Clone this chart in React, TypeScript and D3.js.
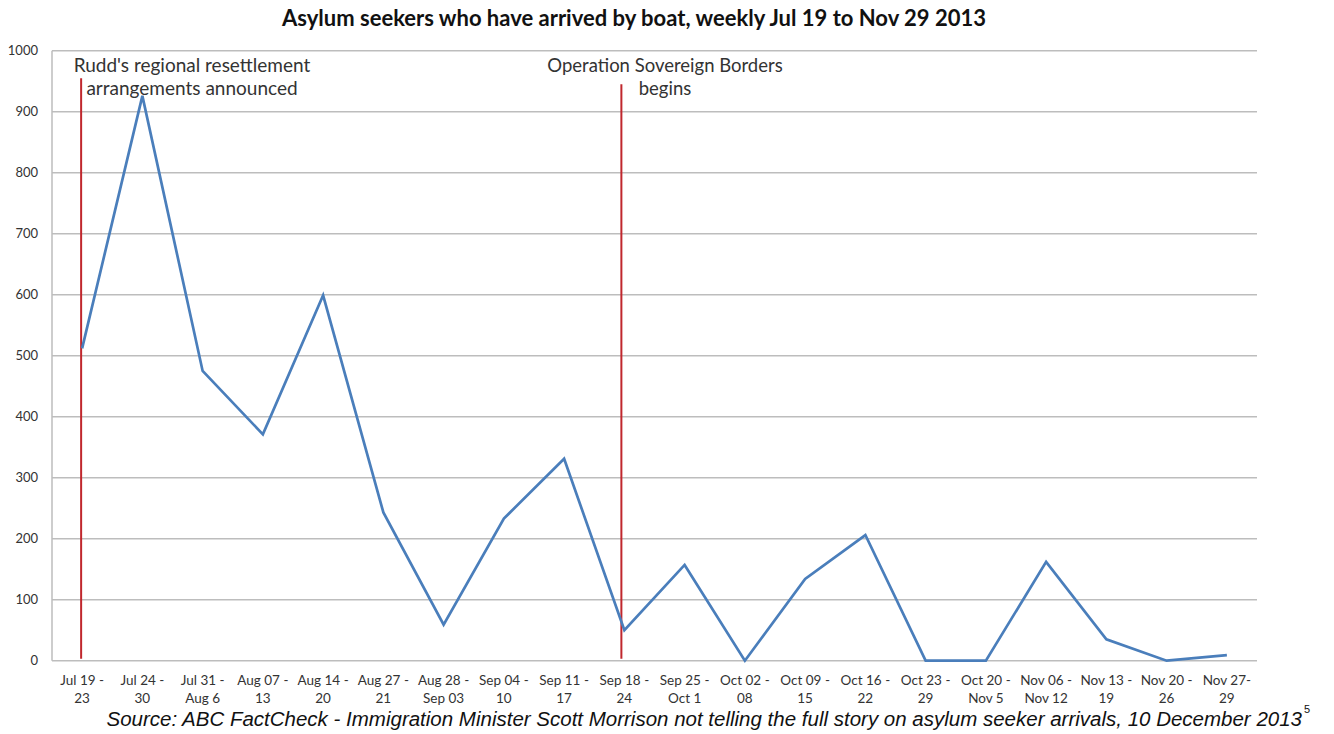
import React from "react";
import * as d3 from "d3";

const catLine1 = ["Jul 19 -", "Jul 24 -", "Jul 31 -", "Aug 07 -", "Aug 14 -", "Aug 27 -", "Aug 28 -", "Sep 04 -", "Sep 11 -", "Sep 18 -", "Sep 25 -", "Oct 02 -", "Oct 09 -", "Oct 16 -", "Oct 23 -", "Oct 20 -", "Nov 06 -", "Nov 13 -", "Nov 20 -", "Nov 27-"];
const catLine2 = ["23", "30", "Aug 6", "13", "20", "21", "Sep 03", "10", "17", "24", "Oct 1", "08", "15", "22", "29", "Nov 5", "Nov 12", "19", "26", "29"];
const arrivals = [512, 926, 475, 371, 599, 243, 59, 233, 331, 50, 157, 0, 134, 206, 0, 0, 162, 35, 0, 9];
const yTicks = [0, 100, 200, 300, 400, 500, 600, 700, 800, 900, 1000];

const events = [
  { index: 0, top: 955, lines: ["Rudd's regional resettlement", "arrangements announced"] },
  { index: 9, top: 945, lines: ["Operation Sovereign Borders", "begins"] },
];

const title = "Asylum seekers who have arrived by boat, weekly Jul 19 to Nov 29 2013";
const source = "Source: ABC FactCheck - Immigration Minister Scott Morrison not telling the full story on asylum seeker arrivals, 10 December 2013";

export default function App() {
  const W = 1334, H = 734;
  const left = 52, right = 1257, top = 50.7, bottom = 660.7;
  const idx = arrivals.map((_, i) => i);
  const x = d3.scalePoint<number>().domain(idx).range([left, right]).padding(0.5);
  const y = d3.scaleLinear().domain([0, 1000]).range([bottom, top]);
  const line = d3.line<number>().x((_, i) => x(i)!).y((d) => y(d));
  const font = "Lato, 'Open Sans', sans-serif";

  const annX = [192, 665];
  const annSize = [19, 18.5];

  return (
    <svg width={W} height={H} style={{ position: "absolute", left: 0, top: 0, background: "#fff" }}>
      <text x={634} y={26} textAnchor="middle" fontFamily={font} fontWeight="bold" fontSize={22} fill="#111">{title}</text>
      {yTicks.map((t) => (
        <g key={t}>
          <line x1={left} x2={right} y1={y(t)} y2={y(t)} stroke="#bdbdbd" strokeWidth={1.5} />
          <text x={38} y={y(t)} dy="0.35em" textAnchor="end" fontFamily={font} fontSize={13} fill="#333">{t}</text>
        </g>
      ))}
      <line x1={left} x2={left} y1={top} y2={bottom} stroke="#bdbdbd" strokeWidth={1.5} />
      {events.map((e, k) => (
        <g key={k}>
          <line x1={x(e.index)! - (k === 0 ? 1 : 3)} x2={x(e.index)! - (k === 0 ? 1 : 3)} y1={y(e.top)} y2={bottom - 2} stroke="#c0272d" strokeWidth={2} />
          {e.lines.map((l, j) => (
            <text key={j} x={annX[k]} y={72 + j * 23} textAnchor="middle" fontFamily={font} fontSize={annSize[k]} fill="#333">{l}</text>
          ))}
        </g>
      ))}
      <path d={line(arrivals) || ""} fill="none" stroke="#4a7ebb" strokeWidth={2.7} strokeLinejoin="miter" />
      {idx.map((i) => (
        <g key={i}>
          <text x={x(i)} y={685} textAnchor="middle" fontFamily={font} fontSize={13.5} fill="#333">{catLine1[i]}</text>
          <text x={x(i)} y={703} textAnchor="middle" fontFamily={font} fontSize={13.5} fill="#333">{catLine2[i]}</text>
        </g>
      ))}
      <text x={1302} y={726} textAnchor="end" fontFamily="'Liberation Sans', Arial, sans-serif" fontStyle="italic" fontSize={20.5} fill="#111">
        {source}
      </text>
      <text x={1304} y={713} fontFamily="'Liberation Sans', Arial, sans-serif" fontSize={11} fill="#111">5</text>
    </svg>
  );
}
